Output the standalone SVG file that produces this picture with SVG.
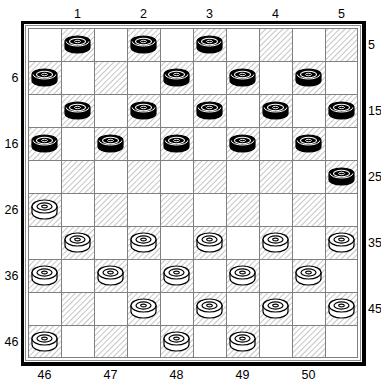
<svg xmlns="http://www.w3.org/2000/svg" xmlns:xlink="http://www.w3.org/1999/xlink" width="381" height="381" viewBox="0 0 381 381">
<style>
.lbl{font-family:"Liberation Sans",Arial,sans-serif;font-size:12.5px;fill:#000}
.m{text-anchor:middle}
.r{text-anchor:end}
.dk{fill:url(#hatch)}
</style>
<defs>
<pattern id="hatch" patternUnits="userSpaceOnUse" width="4" height="4" patternTransform="rotate(45)">
<rect width="4" height="4" fill="#fff"/>
<line x1="0" y1="0" x2="0" y2="4" stroke="#8c8c8c" stroke-width="1"/>
</pattern>
<g id="bp">
<path d="M-12.5,-3 v6 a12.5,5.5 0 0 0 25,0 v-6 a12.5,5.5 0 0 0 -25,0 z" fill="#000" stroke="#000" stroke-width="1.2"/>
<path d="M-11.3,-3 a11.3,4.5 0 0 0 22.6,0" fill="none" stroke="#fff" stroke-width="1"/>
<ellipse cx="0" cy="-3" rx="8" ry="3.2" fill="none" stroke="#fff" stroke-width="1.1"/>
<ellipse cx="0" cy="-3" rx="3" ry="1.2" fill="none" stroke="#fff" stroke-width="0.9"/>
</g>
<g id="wp">
<path d="M-12.5,-3 v6 a12.5,6.5 0 0 0 25,0 v-6 z" fill="#fff" stroke="#000" stroke-width="1.2"/>
<ellipse cx="0" cy="-3" rx="12.5" ry="6.5" fill="#fff" stroke="#000" stroke-width="1.2"/>
<ellipse cx="0" cy="-3" rx="7.5" ry="3.6" fill="none" stroke="#000" stroke-width="1.2"/>
<ellipse cx="0" cy="-3" rx="2.8" ry="1.4" fill="none" stroke="#000" stroke-width="1.1"/>
</g>
</defs>
<rect width="381" height="381" fill="#fff"/>
<g id="board">
<rect x="21" y="21" width="345" height="345" fill="#000"/>
<rect x="24" y="24" width="338" height="338" fill="#fff"/>
<rect x="25.5" y="25.5" width="335" height="335" fill="none" stroke="#8c8c8c" stroke-width="1"/>
<rect x="28" y="28" width="330" height="330" fill="#fff"/>
<g id="dark-squares">
<rect class="dk" x="61" y="28" width="33" height="33"/><rect class="dk" x="127" y="28" width="33" height="33"/><rect class="dk" x="193" y="28" width="33" height="33"/><rect class="dk" x="259" y="28" width="33" height="33"/><rect class="dk" x="325" y="28" width="33" height="33"/>
<rect class="dk" x="28" y="61" width="33" height="33"/><rect class="dk" x="94" y="61" width="33" height="33"/><rect class="dk" x="160" y="61" width="33" height="33"/><rect class="dk" x="226" y="61" width="33" height="33"/><rect class="dk" x="292" y="61" width="33" height="33"/>
<rect class="dk" x="61" y="94" width="33" height="33"/><rect class="dk" x="127" y="94" width="33" height="33"/><rect class="dk" x="193" y="94" width="33" height="33"/><rect class="dk" x="259" y="94" width="33" height="33"/><rect class="dk" x="325" y="94" width="33" height="33"/>
<rect class="dk" x="28" y="127" width="33" height="33"/><rect class="dk" x="94" y="127" width="33" height="33"/><rect class="dk" x="160" y="127" width="33" height="33"/><rect class="dk" x="226" y="127" width="33" height="33"/><rect class="dk" x="292" y="127" width="33" height="33"/>
<rect class="dk" x="61" y="160" width="33" height="33"/><rect class="dk" x="127" y="160" width="33" height="33"/><rect class="dk" x="193" y="160" width="33" height="33"/><rect class="dk" x="259" y="160" width="33" height="33"/><rect class="dk" x="325" y="160" width="33" height="33"/>
<rect class="dk" x="28" y="193" width="33" height="33"/><rect class="dk" x="94" y="193" width="33" height="33"/><rect class="dk" x="160" y="193" width="33" height="33"/><rect class="dk" x="226" y="193" width="33" height="33"/><rect class="dk" x="292" y="193" width="33" height="33"/>
<rect class="dk" x="61" y="226" width="33" height="33"/><rect class="dk" x="127" y="226" width="33" height="33"/><rect class="dk" x="193" y="226" width="33" height="33"/><rect class="dk" x="259" y="226" width="33" height="33"/><rect class="dk" x="325" y="226" width="33" height="33"/>
<rect class="dk" x="28" y="259" width="33" height="33"/><rect class="dk" x="94" y="259" width="33" height="33"/><rect class="dk" x="160" y="259" width="33" height="33"/><rect class="dk" x="226" y="259" width="33" height="33"/><rect class="dk" x="292" y="259" width="33" height="33"/>
<rect class="dk" x="61" y="292" width="33" height="33"/><rect class="dk" x="127" y="292" width="33" height="33"/><rect class="dk" x="193" y="292" width="33" height="33"/><rect class="dk" x="259" y="292" width="33" height="33"/><rect class="dk" x="325" y="292" width="33" height="33"/>
<rect class="dk" x="28" y="325" width="33" height="33"/><rect class="dk" x="94" y="325" width="33" height="33"/><rect class="dk" x="160" y="325" width="33" height="33"/><rect class="dk" x="226" y="325" width="33" height="33"/><rect class="dk" x="292" y="325" width="33" height="33"/>
</g>
<path id="grid" fill="none" stroke="#808080" stroke-width="1" d="M28.5,28 V358 M61.5,28 V358 M94.5,28 V358 M127.5,28 V358 M160.5,28 V358 M193.5,28 V358 M226.5,28 V358 M259.5,28 V358 M292.5,28 V358 M325.5,28 V358 M357.5,28 V358 M28,28.5 H358 M28,61.5 H358 M28,94.5 H358 M28,127.5 H358 M28,160.5 H358 M28,193.5 H358 M28,226.5 H358 M28,259.5 H358 M28,292.5 H358 M28,325.5 H358 M28,357.5 H358"/>
</g>
<g id="labels">
<text class="lbl m" x="77.5" y="18">1</text>
<text class="lbl m" x="143.5" y="18">2</text>
<text class="lbl m" x="209.5" y="18">3</text>
<text class="lbl m" x="275.5" y="18">4</text>
<text class="lbl m" x="341.5" y="18">5</text>
<text class="lbl r" x="18.5" y="82">6</text>
<text class="lbl r" x="18.5" y="148">16</text>
<text class="lbl r" x="18.5" y="214">26</text>
<text class="lbl r" x="18.5" y="280">36</text>
<text class="lbl r" x="18.5" y="346">46</text>
<text class="lbl" x="368" y="49">5</text>
<text class="lbl" x="368" y="115">15</text>
<text class="lbl" x="368" y="181">25</text>
<text class="lbl" x="368" y="247">35</text>
<text class="lbl" x="368" y="313">45</text>
<text class="lbl m" x="44.5" y="379">46</text>
<text class="lbl m" x="110.5" y="379">47</text>
<text class="lbl m" x="176.5" y="379">48</text>
<text class="lbl m" x="242.5" y="379">49</text>
<text class="lbl m" x="308.5" y="379">50</text>
</g>
<g id="black-pieces">
<g id="b1"><use xlink:href="#bp" x="77.5" y="44.5"/></g>
<g id="b2"><use xlink:href="#bp" x="143.5" y="44.5"/></g>
<g id="b3"><use xlink:href="#bp" x="209.5" y="44.5"/></g>
<g id="b6"><use xlink:href="#bp" x="44.5" y="77.5"/></g>
<g id="b8"><use xlink:href="#bp" x="176.5" y="77.5"/></g>
<g id="b9"><use xlink:href="#bp" x="242.5" y="77.5"/></g>
<g id="b10"><use xlink:href="#bp" x="308.5" y="77.5"/></g>
<g id="b11"><use xlink:href="#bp" x="77.5" y="110.5"/></g>
<g id="b12"><use xlink:href="#bp" x="143.5" y="110.5"/></g>
<g id="b13"><use xlink:href="#bp" x="209.5" y="110.5"/></g>
<g id="b14"><use xlink:href="#bp" x="275.5" y="110.5"/></g>
<g id="b15"><use xlink:href="#bp" x="341.5" y="110.5"/></g>
<g id="b16"><use xlink:href="#bp" x="44.5" y="143.5"/></g>
<g id="b17"><use xlink:href="#bp" x="110.5" y="143.5"/></g>
<g id="b18"><use xlink:href="#bp" x="176.5" y="143.5"/></g>
<g id="b19"><use xlink:href="#bp" x="242.5" y="143.5"/></g>
<g id="b20"><use xlink:href="#bp" x="308.5" y="143.5"/></g>
<g id="b25"><use xlink:href="#bp" x="341.5" y="176.5"/></g>
</g>
<g id="white-pieces">
<g id="w26"><use xlink:href="#wp" x="44.5" y="209.5"/></g>
<g id="w31"><use xlink:href="#wp" x="77.5" y="242.5"/></g>
<g id="w32"><use xlink:href="#wp" x="143.5" y="242.5"/></g>
<g id="w33"><use xlink:href="#wp" x="209.5" y="242.5"/></g>
<g id="w34"><use xlink:href="#wp" x="275.5" y="242.5"/></g>
<g id="w35"><use xlink:href="#wp" x="341.5" y="242.5"/></g>
<g id="w36"><use xlink:href="#wp" x="44.5" y="275.5"/></g>
<g id="w37"><use xlink:href="#wp" x="110.5" y="275.5"/></g>
<g id="w38"><use xlink:href="#wp" x="176.5" y="275.5"/></g>
<g id="w39"><use xlink:href="#wp" x="242.5" y="275.5"/></g>
<g id="w40"><use xlink:href="#wp" x="308.5" y="275.5"/></g>
<g id="w42"><use xlink:href="#wp" x="143.5" y="308.5"/></g>
<g id="w43"><use xlink:href="#wp" x="209.5" y="308.5"/></g>
<g id="w44"><use xlink:href="#wp" x="275.5" y="308.5"/></g>
<g id="w45"><use xlink:href="#wp" x="341.5" y="308.5"/></g>
<g id="w46"><use xlink:href="#wp" x="44.5" y="341.5"/></g>
<g id="w48"><use xlink:href="#wp" x="176.5" y="341.5"/></g>
<g id="w49"><use xlink:href="#wp" x="242.5" y="341.5"/></g>
</g>
</svg>
